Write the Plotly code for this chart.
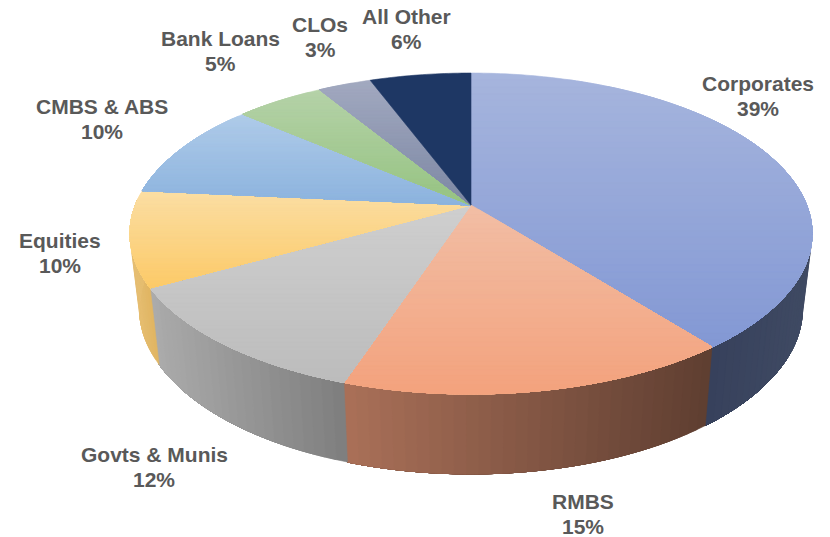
import math
import plotly.graph_objects as go

# ---- data ----
categories = ["Corporates", "RMBS", "Govts & Munis", "Equities", "CMBS & ABS", "Bank Loans", "CLOs", "All Other"]
values = [39.4, 15.7, 11.8, 9.6, 9.8, 5.0, 3.0, 5.7]
percent_labels = ["39%", "15%", "12%", "10%", "10%", "5%", "3%", "6%"]

# ---- styles ----
top_start = ["#A6B5DD", "#F2BEA5", "#CFCFCF", "#FBDEA4", "#AFCBE9", "#B5D2A8", "#A2A9C0", "#1E3764"]
top_end = ["#8398D4", "#F3A27D", "#BCBCBC", "#FCCA68", "#8CB3DE", "#96C382", "#7D88A4", "#1E3764"]
side_start = ["#37415C", "#AA7058", "#ABABAB", "#E6BE72", "#6F8FB0", "#7F9F70", "#6F7890", "#16294A"]
side_end = ["#3F4A63", "#5E3E31", "#7E7E7E", "#E0B562", "#6F8FB0", "#7F9F70", "#6F7890", "#16294A"]
label_x = [758, 583, 154, 60, 102, 220, 320, 406]
label_y = [83, 501, 454, 240, 106, 38, 24, 16]
LINE_GAP = 25
TEXT = "#595959"

# ---- projection of the tilted disc (pixels of the 830x537 plot area) ----
CX, CY, R, A, K = 471.0, 205.0, 335.6, 155.4, 0.1776
SCALE_LOW, BASE_LOW, STRETCH_LOW = 0.972, 279.3, 1.03


def top_pt(theta):
    c, s = math.sin(theta), -math.cos(theta)
    d = 1 - K * s
    return CX + R * c / d, CY + A * s / d


def low_pt(theta):
    x, y = top_pt(theta)
    return CX + SCALE_LOW * (x - CX), BASE_LOW + STRETCH_LOW * (y - CY)


def hex_rgb(h):
    return [int(h[i:i + 2], 16) for i in (1, 3, 5)]


def mix(a, b, t):
    t = max(0.0, min(1.0, t))
    ca, cb = hex_rgb(a), hex_rgb(b)
    return "rgb(%d,%d,%d)" % tuple(round(p + (q - p) * t) for p, q in zip(ca, cb))


def clip_below(points, y0):
    out = []
    for i, p in enumerate(points):
        q = points[(i + 1) % len(points)]
        kp, kq = p[1] >= y0, q[1] >= y0
        if kp:
            out.append(p)
        if kp != kq:
            t = (y0 - p[1]) / (q[1] - p[1])
            out.append((p[0] + t * (q[0] - p[0]), y0))
    return out


def add_poly(fig, pts, color, width=0.6):
    xs = [p[0] for p in pts] + [pts[0][0]]
    ys = [p[1] for p in pts] + [pts[0][1]]
    fig.add_trace(go.Scatter(x=xs, y=ys, mode="lines", fill="toself", fillcolor=color,
                             line=dict(color=color, width=width, simplify=False),
                             hoverinfo="skip", showlegend=False))


fig = go.Figure()
total = sum(values)
edges = [0.0]
for v in values:
    edges.append(edges[-1] + v / total * 2 * math.pi)

# sides first, only along the front half of the rim; the tops are painted over them.
# each step repaints everything from its angle to the slice's end, so no seams show.
FRONT_FROM, FRONT_TO = math.radians(88), math.radians(272)
for i in range(len(values)):
    a0, a1 = max(edges[i], FRONT_FROM), min(edges[i + 1], FRONT_TO)
    if a1 <= a0:
        continue
    n = max(4, int((a1 - a0) / 0.03))
    angles = [a0 + (a1 - a0) * j / n for j in range(n + 1)]
    xs_vis = [top_pt(t)[0] for t in angles]
    span_lo, span_hi = min(xs_vis), max(xs_vis)
    for j in range(n):
        rest = angles[j:]
        xm = (top_pt(angles[j])[0] + top_pt(angles[j + 1])[0]) / 2
        f = (xm - span_lo) / max(1.0, span_hi - span_lo)
        pts = [top_pt(t) for t in rest] + [low_pt(t) for t in reversed(rest)]
        add_poly(fig, pts, mix(side_start[i], side_end[i], f))

# tops, each with its own vertical gradient, painted from top to bottom
BANDS = 40
for i in range(len(values)):
    a0, a1 = edges[i], edges[i + 1]
    n = max(8, int((a1 - a0) / 0.015))
    poly = [(CX, CY)] + [top_pt(a0 + (a1 - a0) * j / n) for j in range(n + 1)]
    y_lo = min(p[1] for p in poly)
    y_hi = max(p[1] for p in poly)
    steps = 1 if top_start[i] == top_end[i] else BANDS
    for b in range(steps):
        y0 = y_lo + (y_hi - y_lo) * b / steps
        part = clip_below(poly, y0) if b else poly
        if len(part) >= 3:
            add_poly(fig, part, mix(top_start[i], top_end[i], (b + 0.5) / steps))

for i, name in enumerate(categories):
    for text, y in ((name, label_y[i]), (percent_labels[i], label_y[i] + LINE_GAP)):
        fig.add_annotation(x=label_x[i], y=y, text=text, showarrow=False, xanchor="center", yanchor="middle",
                           borderpad=0, borderwidth=0,
                           font=dict(family="Liberation Sans, Arial, sans-serif", size=21, color=TEXT, weight="bold"))

fig.update_layout(width=830, height=537, margin=dict(l=0, r=0, t=0, b=0),
                  paper_bgcolor="white", plot_bgcolor="white", showlegend=False,
                  xaxis=dict(range=[0, 830], visible=False, fixedrange=True),
                  yaxis=dict(range=[537, 0], visible=False, fixedrange=True))
fig.write_html("out.html", config={"displayModeBar": False, "responsive": False},
               post_script="document.body.style.margin='0';document.documentElement.style.overflow='hidden';")
